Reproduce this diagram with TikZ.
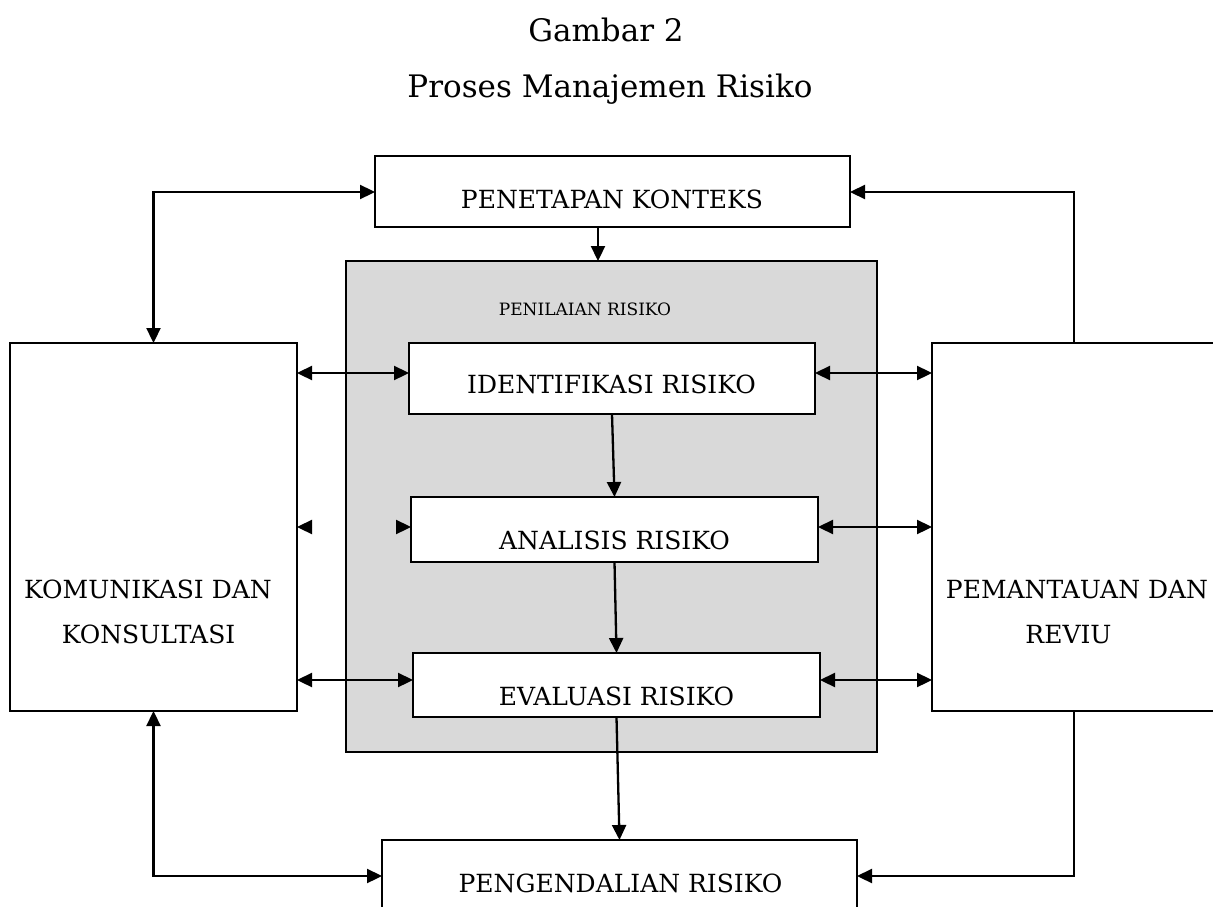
\documentclass[tikz,border=0pt]{standalone}
\usepackage{fontspec}
\setmainfont{DejaVu Serif}
\usetikzlibrary{arrows.meta,calc}
\definecolor{panel}{HTML}{D9D9D9}
\begin{document}
\begin{tikzpicture}[x=1pt,y=-1pt,
  box/.style={draw, line width=2.3pt, fill=white, inner sep=0pt, outer sep=0pt},
  lbl/.style={anchor=base, inner sep=0pt, font=\fontsize{25}{30}\selectfont},
  ttl/.style={anchor=base, inner sep=0pt, font=\fontsize{31}{36}\selectfont},
  sml/.style={anchor=base, inner sep=0pt, font=\fontsize{17}{20}\selectfont},
  conn/.style={line width=2.3pt, -{Triangle[length=15pt,width=14pt]}},
  both/.style={line width=2.3pt, {Triangle[length=15pt,width=14pt]}-{Triangle[length=15pt,width=14pt]}},
]
\useasboundingbox (0,0) rectangle (1213,907);

% boxes
\node[box, fill=panel, minimum width=531pt, minimum height=491pt] (gray) at (611.5,506.5) {};
\node[box, minimum width=475pt, minimum height=71pt] (pen) at (612.5,191.5) {};
\node[box, minimum width=406pt, minimum height=71pt] (ide) at (612,378.5) {};
\node[box, minimum width=407pt, minimum height=65pt] (ana) at (614.5,529.5) {};
\node[box, minimum width=407pt, minimum height=64pt] (eva) at (616.5,685) {};
\node[box, minimum width=287pt, minimum height=368pt] (kom) at (153.5,527) {};
\node[box, minimum width=288pt, minimum height=368pt] (pem) at (1076,527) {};
\node[box, minimum width=475pt, minimum height=90pt] (peng) at (619.5,885) {};

% helper coordinates
\coordinate (yTop) at (0,192);
\coordinate (yA) at (0,373);
\coordinate (yB) at (0,527);
\coordinate (yC) at (0,680);
\coordinate (yBot) at (0,876);
\coordinate (xP) at (598,0);
\coordinate (xR) at (1074,0);

% connectors
\draw[both] (kom.north) |- (pen.west |- yTop);
\draw[conn] (pem.north -| xR) |- (pen.east |- yTop);
\draw[conn] (pen.south -| xP) -- (gray.north -| xP);
\draw[conn] (ide.south) -- (ana.north);
\draw[conn] (ana.south) -- (eva.north);
\draw[conn] (eva.south) -- (peng.north);

\draw[both] (kom.east |- yA) -- (ide.west |- yA);
\draw[conn] ($(kom.east |- yB)+(15,0)$) -- (kom.east |- yB);
\draw[conn] ($(ana.west |- yB)+(-15,0)$) -- (ana.west |- yB);
\draw[both] (kom.east |- yC) -- (eva.west |- yC);

\draw[both] (ide.east |- yA) -- (pem.west |- yA);
\draw[both] (ana.east |- yB) -- (pem.west |- yB);
\draw[both] (eva.east |- yC) -- (pem.west |- yC);

\draw[both] (kom.south) |- (peng.west |- yBot);
\draw[conn] (pem.south -| xR) |- (peng.east |- yBot);

% texts
\node[ttl] (t1) at (606,42) {Gambar 2};
\node[ttl] (t2) at (610,97) {Proses Manajemen Risiko};
\node[lbl] (penT) at (612,208) {PENETAPAN KONTEKS};
\node[sml] (pnT) at (585,315) {PENILAIAN RISIKO};
\node[lbl] (ideT) at (611.5,393) {IDENTIFIKASI RISIKO};
\node[lbl] (anaT) at (614.5,549) {ANALISIS RISIKO};
\node[lbl] (evaT) at (616.5,705) {EVALUASI RISIKO};
\node[lbl] (pengT) at (620.5,892) {PENGENDALIAN RISIKO};
\node[lbl] (komT1) at (148,598) {KOMUNIKASI DAN};
\node[lbl] (komT2) at (148.5,643) {KONSULTASI};
\node[lbl] (pemT1) at (1077,598) {PEMANTAUAN DAN};
\node[lbl] (pemT2) at (1068.5,643) {REVIU};
\end{tikzpicture}
\end{document}
